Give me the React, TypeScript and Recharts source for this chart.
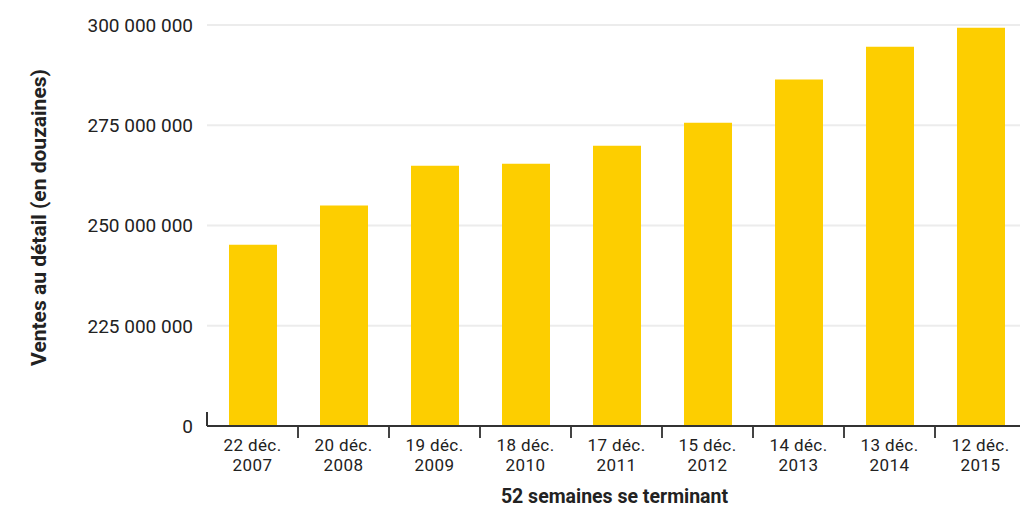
import React from 'react';
import { BarChart, Bar, XAxis, YAxis, CartesianGrid, Label } from 'recharts';

const weeks = ['22 déc.|2007', '20 déc.|2008', '19 déc.|2009', '18 déc.|2010', '17 déc.|2011', '15 déc.|2012', '14 déc.|2013', '13 déc.|2014', '12 déc.|2015'];
const sales = [245200000, 255000000, 264900000, 265400000, 269900000, 275600000, 286400000, 294600000, 299300000];
const yTicks = [200000000, 225000000, 250000000, 275000000, 300000000];

const data = weeks.map((w, i) => ({ week: w, sales: sales[i] }));

const CHART_W = 1030;
const Y_W = 207;
const RIGHT = 4;
const BAND = (CHART_W - Y_W - RIGHT) / weeks.length;
const FONT = 'Roboto, sans-serif';
const TEXT = '#222';

const fmt = (v: number) =>
  v === yTicks[0] ? '0' : String(v).replace(/\B(?=(\d{3})+(?!\d))/g, ' ');

const YTick = (props: any) => {
  const { x, y, payload } = props;
  const isBase = payload.value === yTicks[0];
  return (
    <g>
      <text x={x} y={y} dy="0.36em" textAnchor="end" fill={TEXT} fontSize={19} fontFamily={FONT}>
        {fmt(payload.value)}
      </text>
      {isBase && <line x1={x + 14} x2={x + 14} y1={y - 14} y2={y} stroke="#333" strokeWidth={2} />}
    </g>
  );
};

const XTick = (props: any) => {
  const { x, y, payload, index } = props;
  const [l1, l2] = String(payload.value).split('|');
  const half = payload.offset || BAND / 2;
  return (
    <g>
      {index < weeks.length - 1 && (
        <line x1={x + half} x2={x + half} y1={y + 1} y2={y + 12} stroke="#444" strokeWidth={2} />
      )}
      <text x={x} y={y + 25} textAnchor="middle" fill={TEXT} fontSize={17} letterSpacing={0.4} fontFamily={FONT}>
        {l1}
      </text>
      <text x={x} y={y + 45} textAnchor="middle" fill={TEXT} fontSize={17} letterSpacing={0.4} fontFamily={FONT}>
        {l2}
      </text>
    </g>
  );
};

export default function App() {
  return (
    <div style={{ position: 'absolute', left: 0, top: 0, width: 1020, height: 507, overflow: 'hidden', background: '#fff' }}>
      <BarChart width={CHART_W} height={507} data={data} margin={{ top: 25, right: RIGHT, bottom: 0, left: 0 }}>
        <CartesianGrid vertical={false} stroke="#ececec" strokeWidth={2} horizontalValues={yTicks.slice(1)} />
        <XAxis
          dataKey="week"
          height={81}
          interval={0}
          tickSize={0}
          tickMargin={0}
          tickLine={false}
          axisLine={{ stroke: '#333', strokeWidth: 2 }}
          tick={<XTick />}
        >
          <Label
            content={(p: any) => {
              const vb = p.viewBox;
              return (
                <text x={vb.x + vb.width / 2 - 2} y={vb.y + 77} textAnchor="middle" fill={TEXT} fontSize={19.5} fontWeight="bold" fontFamily={FONT}>
                  52 semaines se terminant
                </text>
              );
            }}
          />
        </XAxis>
        <YAxis
          width={Y_W}
          domain={[yTicks[0], yTicks[yTicks.length - 1]]}
          ticks={yTicks}
          interval={0}
          axisLine={false}
          tickLine={false}
          tickSize={0}
          tickMargin={14}
          tick={<YTick />}
        >
          <Label
            content={(p: any) => {
              const vb = p.viewBox;
              const cy = vb.y + vb.height / 2 - 8;
              return (
                <text x={38} y={cy} transform={`rotate(-90 38 ${cy})`} dy="0.36em" textAnchor="middle" fill={TEXT} fontSize={21} fontWeight="bold" fontFamily={FONT}>
                  Ventes au détail (en douzaines)
                </text>
              );
            }}
          />
        </YAxis>
        <Bar dataKey="sales" fill="#FDCE00" barSize={48} isAnimationActive={false} />
      </BarChart>
    </div>
  );
}
